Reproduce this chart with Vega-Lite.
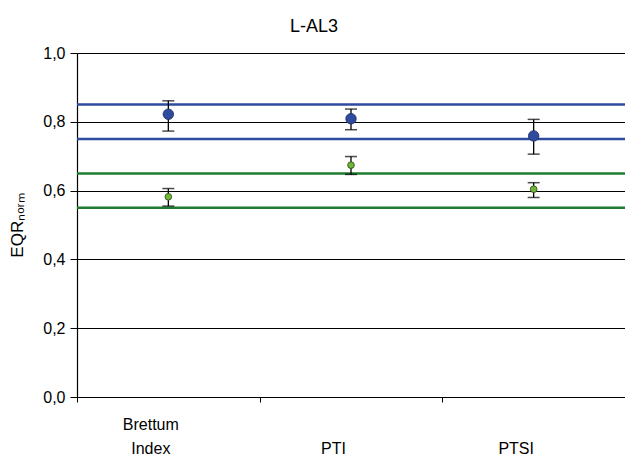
{
  "$schema": "https://vega.github.io/schema/vega-lite/v6.json",
  "width": 548,
  "height": 344,
  "autosize": {"type": "none"},
  "padding": {"left": 77, "top": 53, "right": 0, "bottom": 59},
  "background": "white",
  "title": {"text": "L-AL3", "font": "Liberation Sans", "fontSize": 18, "fontWeight": "normal", "color": "black", "anchor": "middle", "dx": -37, "offset": 9},
  "config": {
    "view": {"stroke": null},
    "axis": {"labelFont": "Liberation Sans", "titleFont": "Liberation Sans", "labelColor": "black", "titleColor": "black", "domainColor": "black", "tickColor": "black"}
  },
  "datasets": {
    "pts": [
      {"index": "Brettum Index", "group": "blue", "value": 0.822, "lo": 0.773, "hi": 0.861},
      {"index": "PTI", "group": "blue", "value": 0.809, "lo": 0.777, "hi": 0.837},
      {"index": "PTSI", "group": "blue", "value": 0.759, "lo": 0.706, "hi": 0.807},
      {"index": "Brettum Index", "group": "green", "value": 0.582, "lo": 0.555, "hi": 0.606},
      {"index": "PTI", "group": "green", "value": 0.674, "lo": 0.647, "hi": 0.699},
      {"index": "PTSI", "group": "green", "value": 0.604, "lo": 0.58, "hi": 0.623}
    ],
    "bounds": [
      {"y": 0.85, "group": "blue"},
      {"y": 0.75, "group": "blue"},
      {"y": 0.65, "group": "green"},
      {"y": 0.55, "group": "green"}
    ]
  },
  "layer": [
    {
      "data": {"name": "bounds"},
      "mark": {"type": "rule", "strokeWidth": 2.5},
      "encoding": {
        "y": {"field": "y", "type": "quantitative", "scale": {"domain": [0, 1]},
          "axis": {"values": [0, 0.2, 0.4, 0.6, 0.8, 1.0], "grid": true, "gridColor": "black", "gridOpacity": 1, "gridWidth": 1.2,
            "labelExpr": "replace(format(datum.value, '.1f'), '.', ',')", "labelFontSize": 16, "labelPadding": 5, "tickSize": 7,
            "title": "EQRₙₒᵣₘ", "titleFontSize": 17, "titleFontWeight": "normal", "titlePadding": 16, "domainWidth": 1.2}},
        "color": {"field": "group", "type": "nominal", "scale": {"domain": ["blue", "green"], "range": ["#2E4C9E", "#1E7D30"]}, "legend": null}
      }
    },
    {
      "data": {"name": "pts"},
      "layer": [
        {
          "mark": {"type": "rule", "color": "black", "strokeWidth": 1.3},
          "encoding": {
            "x": {"field": "index", "type": "nominal", "sort": null},
            "y": {"field": "lo", "type": "quantitative"},
            "y2": {"field": "hi"}
          }
        },
        {
          "mark": {"type": "tick", "orient": "horizontal", "color": "black", "size": 12, "thickness": 1.5},
          "encoding": {
            "x": {"field": "index", "type": "nominal", "sort": null},
            "y": {"field": "lo", "type": "quantitative"}
          }
        },
        {
          "mark": {"type": "tick", "orient": "horizontal", "color": "black", "size": 12, "thickness": 1.5},
          "encoding": {
            "x": {"field": "index", "type": "nominal", "sort": null},
            "y": {"field": "hi", "type": "quantitative"}
          }
        },
        {
          "mark": {"type": "point", "shape": "circle", "filled": true, "opacity": 1, "strokeWidth": 0.8},
          "encoding": {
            "x": {"field": "index", "type": "nominal", "sort": null,
              "axis": {"title": null, "labelAngle": 0, "labelAlign": "center", "labelFontSize": 16, "labelOffset": -18, "labelPadding": 14, "labelLineHeight": 24, "tickBand": "extent", "tickSize": 5, "domainWidth": 1.2,
                "labelExpr": "datum.label == 'Brettum Index' ? ['Brettum', 'Index'] : ['', datum.label]", "labelBaseline": "top"}},
            "y": {"field": "value", "type": "quantitative"},
            "fill": {"field": "group", "type": "nominal", "scale": {"domain": ["blue", "green"], "range": ["#2F4B9D", "#6FB53A"]}, "legend": null},
            "stroke": {"field": "group", "type": "nominal", "scale": {"domain": ["blue", "green"], "range": ["#1B2A60", "#2E4A12"]}, "legend": null},
            "size": {"field": "group", "type": "nominal", "scale": {"domain": ["blue", "green"], "range": [110, 45]}, "legend": null}
          }
        }
      ]
    }
  ]
}
